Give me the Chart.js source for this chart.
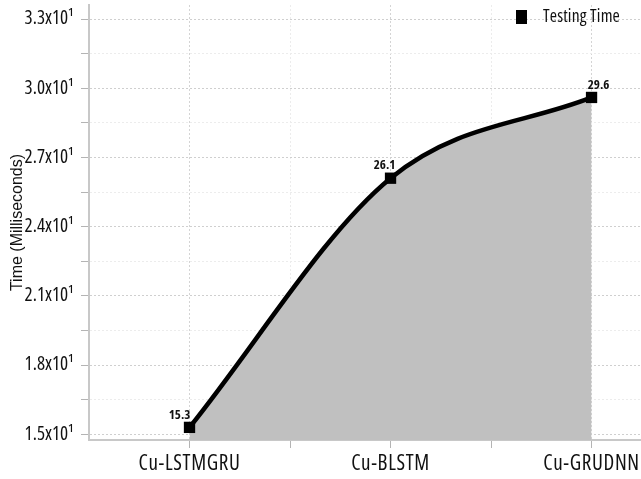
<!DOCTYPE html>
<html>
<head>
<meta charset="utf-8">
<script src="https://cdn.jsdelivr.net/npm/chart.js@4/dist/chart.umd.min.js"></script>
<style>
html,body{margin:0;padding:0;background:#fff;overflow:hidden;}
#wrap{width:641px;height:479px;position:relative;}
</style>
</head>
<body>
<div id="wrap"><canvas id="c" width="641" height="479"></canvas></div>
<script>
// ---- data ----
const categories = ['Cu-LSTMGRU', 'Cu-BLSTM', 'Cu-GRUDNN'];
const testingTime = [15.3, 26.1, 29.6];
const seriesName = 'Testing Time';
const yTickValues = [15, 16.5, 18, 19.5, 21, 22.5, 24, 25.5, 27, 28.5, 30, 31.5, 33];
const yMajorValues = [15, 18, 21, 24, 27, 30, 33];
const yTickLabels = ['1.5x10\u00B9', '1.8x10\u00B9', '2.1x10\u00B9', '2.4x10\u00B9', '2.7x10\u00B9', '3.0x10\u00B9', '3.3x10\u00B9'];
const xTickValues = [0, 0.5, 1, 1.5, 2];
const yTitle = 'Time (Milliseconds)';

// ---- pick the narrowest available sans font (reference uses a narrow face) ----
const mctx = document.createElement('canvas').getContext('2d');
const STRETCH = 'normal condensed';
const candidates = ['Liberation Sans Narrow', 'Arial Narrow', 'Roboto Condensed', 'DejaVu Sans Condensed',
  'Open Sans Condensed', 'Roboto', 'Open Sans', 'Liberation Sans'];
function measure(str, fam, weight, size) {
  mctx.font = (weight || STRETCH) + ' ' + (size || 100) + 'px ' + fam;
  return mctx.measureText(str).width;
}
const monoW = measure('Cu-LSTMGRU Testing', 'monospace');
let best = '"Liberation Sans", Arial, sans-serif', bestW = Infinity;
candidates.forEach(f => {
  const fam = '"' + f + '", monospace';
  const w = measure('Cu-LSTMGRU Testing', fam);
  if (Math.abs(w - monoW) > 0.5 && w < bestW) { bestW = w; best = '"' + f + '", "Liberation Sans", sans-serif'; }
});
const NARROW = best;

// font sizes chosen by glyph height; letter spacing makes up the width of the narrow reference face
const xLabelSize = 21, yLabelSize = 19, legendSize = 17.5, dlSize = 13;
function spacingFor(str, targetW, size, weight) {
  const w = measure(str, NARROW, weight, size);
  return Math.max(0, Math.min(2, (targetW - w) / str.length));
}
const letterSpacing = {
  x: spacingFor('Cu-LSTMGRU', 102, xLabelSize),
  y: spacingFor('2.4x10\u00B9', 45, yLabelSize),
  legend: spacingFor(seriesName, 77, legendSize),
  dl: spacingFor('29.6', 20, dlSize, 'bold condensed')
};

const pointData = categories.map((c, i) => ({x: i, y: testingTime[i]}));
const labelOffsets = [-10, -6, 7];

const spacingPlugin = {
  id: 'labelSpacing',
  afterLayout(chart) {
    ['x', 'y'].forEach(id => {
      const s = chart.scales[id];
      if (!s || s._spacingPatched) return;
      const orig = s.drawLabels;
      s.drawLabels = function (area) {
        const ctx = this.ctx;
        const prev = ctx.letterSpacing;
        ctx.letterSpacing = letterSpacing[id].toFixed(2) + 'px';
        orig.call(this, area);
        ctx.letterSpacing = prev || '0px';
      };
      s._spacingPatched = true;
    });
  }
};

const dataLabelPlugin = {
  id: 'dataLabels',
  afterDatasetsDraw(chart) {
    const ctx = chart.ctx;
    const meta = chart.getDatasetMeta(0);
    ctx.save();
    ctx.font = 'bold condensed ' + dlSize + 'px ' + NARROW;
    ctx.letterSpacing = letterSpacing.dl.toFixed(2) + 'px';
    ctx.fillStyle = '#111';
    ctx.textAlign = 'center';
    ctx.textBaseline = 'bottom';
    meta.data.forEach((el, i) => {
      ctx.fillText(testingTime[i].toFixed(1), el.x + labelOffsets[i], el.y - 6);
    });
    ctx.restore();
  }
};

const legendPlugin = {
  id: 'customLegend',
  afterDraw(chart) {
    const ctx = chart.ctx;
    const a = chart.chartArea;
    ctx.save();
    ctx.fillStyle = '#000';
    ctx.fillRect(a.right - 125, a.top + 5, 11, 14);
    ctx.font = STRETCH + ' ' + legendSize + 'px ' + NARROW;
    ctx.letterSpacing = letterSpacing.legend.toFixed(2) + 'px';
    ctx.textAlign = 'left';
    ctx.textBaseline = 'middle';
    ctx.fillStyle = '#111';
    ctx.fillText(seriesName, a.right - 98, a.top + 12);
    ctx.restore();
  }
};

function zeroPad(s) { s.paddingLeft = 0; s.paddingRight = 0; s.paddingTop = 0; s.paddingBottom = 0; }

new Chart(document.getElementById('c'), {
  type: 'line',
  data: {
    datasets: [{
      label: seriesName,
      data: pointData,
      borderColor: '#000',
      borderWidth: 4.5,
      backgroundColor: '#c0c0c0',
      fill: 'start',
      cubicInterpolationMode: 'monotone',
      pointStyle: 'rect',
      pointRadius: 8,
      pointBackgroundColor: '#000',
      pointBorderColor: '#000',
      pointBorderWidth: 0
    }]
  },
  options: {
    responsive: false,
    animation: false,
    layout: {autoPadding: false, padding: {top: 5, right: 0, left: 0, bottom: 0}},
    plugins: {
      legend: {display: false},
      tooltip: {enabled: false}
    },
    scales: {
      x: {
        type: 'linear',
        min: -0.5,
        max: 2.246,
        afterBuildTicks: (s) => { s.ticks = xTickValues.map(v => ({value: v})); },
        afterFit: (s) => { s.height = 39; zeroPad(s); },
        ticks: {
          autoSkip: false,
          maxRotation: 0,
          padding: 3,
          color: '#111',
          font: {family: NARROW, size: xLabelSize, weight: STRETCH},
          callback: (v) => Number.isInteger(v) ? categories[v] : ''
        },
        grid: {
          color: (c) => (c.tick && Number.isInteger(c.tick.value)) ? '#d4d4d4' : '#ececec',
          lineWidth: 1,
          drawTicks: true,
          tickLength: 8,
          tickColor: '#b4b4b4',
          tickWidth: 1,
          tickBorderDash: []
        },
        border: {display: true, color: '#c8c8c8', width: 2, dash: [2, 2]}
      },
      y: {
        type: 'linear',
        min: 14.753,
        max: 33.607,
        afterBuildTicks: (s) => { s.ticks = yTickValues.map(v => ({value: v})); },
        afterFit: (s) => { s.width = 89; zeroPad(s); },
        ticks: {
          autoSkip: false,
          padding: 7,
          color: '#111',
          font: {family: NARROW, size: yLabelSize, weight: STRETCH},
          callback: (v) => {
            const idx = yMajorValues.indexOf(v);
            return idx >= 0 ? yTickLabels[idx] : '';
          }
        },
        title: {
          display: true,
          text: yTitle,
          color: '#111',
          font: {family: '"Liberation Sans", Arial, sans-serif', size: 16},
          padding: {top: 8, bottom: 0}
        },
        grid: {
          color: (c) => (c.tick && yMajorValues.includes(c.tick.value)) ? '#cfcfcf' : '#ececec',
          lineWidth: 1,
          drawTicks: true,
          tickLength: 8,
          tickColor: '#b4b4b4',
          tickWidth: 1,
          tickBorderDash: []
        },
        border: {display: true, color: '#c8c8c8', width: 2, dash: [2, 2]}
      }
    }
  },
  plugins: [spacingPlugin, dataLabelPlugin, legendPlugin]
});
</script>
</body>
</html>
